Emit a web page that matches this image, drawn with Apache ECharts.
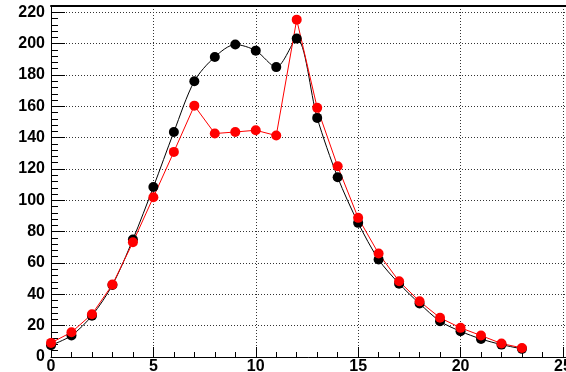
<!DOCTYPE html>
<html>
<head>
<meta charset="utf-8">
<script src="https://cdn.jsdelivr.net/npm/echarts@6/dist/echarts.min.js"></script>
<style>
html,body{margin:0;padding:0;background:#fff;}
#chart{width:566px;height:372px;}
</style>
</head>
<body>
<div id="chart"></div>
<script>
var xs = [0,1,2,3,4,5,6,7,8,9,10,11,12,13,14,15,16,17,18,19,20,21,22,23];
var blackVals = [7.5,13.7,26.4,46,75,108.5,143.6,176,191.5,199.4,195.5,185,203.2,152.6,114.7,85.6,62.2,46.8,34.1,22.8,16.4,11.5,7.9,5.2];
var redVals = [9,15.8,27.3,46.2,73.2,102,130.9,160.4,142.6,143.6,144.7,141.3,215.3,159,121.7,88.8,66,48.3,35.5,25,18.6,13.7,8.6,5.8];

function pairs(v){ return xs.map(function(x,i){ return [x, v[i]]; }); }

var labelFont = {fontFamily:'Liberation Sans, Arial, sans-serif', fontWeight:'bold', fontSize:16, color:'#000'};
var dotted = {show:true, lineStyle:{color:'#333', width:1, type:[1,2]}};

var chart = echarts.init(document.getElementById('chart'), null, {renderer:'canvas'});
chart.setOption({
  animation:false,
  backgroundColor:'#fff',
  grid:{left:51, top:6, width:516, height:351, containLabel:false, outerBoundsMode:'none'},
  xAxis:[
    {type:'value', min:0, max:25.2, interval:5, position:'bottom',
     axisLine:{show:true, onZero:false, lineStyle:{color:'#000', width:1}},
     axisTick:{show:true, inside:true, length:10, lineStyle:{color:'#000'}},
     axisLabel:Object.assign({margin:2, showMaxLabel:false, hideOverlap:false}, labelFont),
     splitLine:dotted},
    {type:'value', min:0, max:25.2, interval:1, position:'bottom',
     axisLine:{show:false, onZero:false},
     axisTick:{show:true, inside:true, length:5, lineStyle:{color:'#000'}},
     axisLabel:{show:false}, splitLine:{show:false}},
    {type:'value', min:0, max:25.2, position:'top',
     axisLine:{show:true, onZero:false, lineStyle:{color:'#000', width:2}},
     axisTick:{show:false}, axisLabel:{show:false}, splitLine:{show:false}}
  ],
  yAxis:[
    {type:'value', min:0, max:224, interval:20, position:'left',
     axisLine:{show:true, onZero:false, lineStyle:{color:'#000', width:1}},
     axisTick:{show:true, inside:true, length:14, lineStyle:{color:'#000'}},
     axisLabel:Object.assign({margin:6, showMaxLabel:false, hideOverlap:false}, labelFont),
     splitLine:dotted},
    {type:'value', min:0, max:224, interval:4, position:'left',
     axisLine:{show:false, onZero:false},
     axisTick:{show:true, inside:true, length:7, lineStyle:{color:'#000'}},
     axisLabel:{show:false}, splitLine:{show:false}}
  ],
  series:[
    {type:'line', name:'black', data:pairs(blackVals), smooth:0.3, clip:false,
     symbol:'circle', symbolSize:10, showSymbol:true,
     lineStyle:{color:'#000', width:1}, itemStyle:{color:'#000'}},
    {type:'line', name:'red', data:pairs(redVals), smooth:false, clip:false,
     symbol:'circle', symbolSize:10, showSymbol:true,
     lineStyle:{color:'#ff0000', width:1}, itemStyle:{color:'#ff0000'}}
  ]
});
</script>
</body>
</html>
